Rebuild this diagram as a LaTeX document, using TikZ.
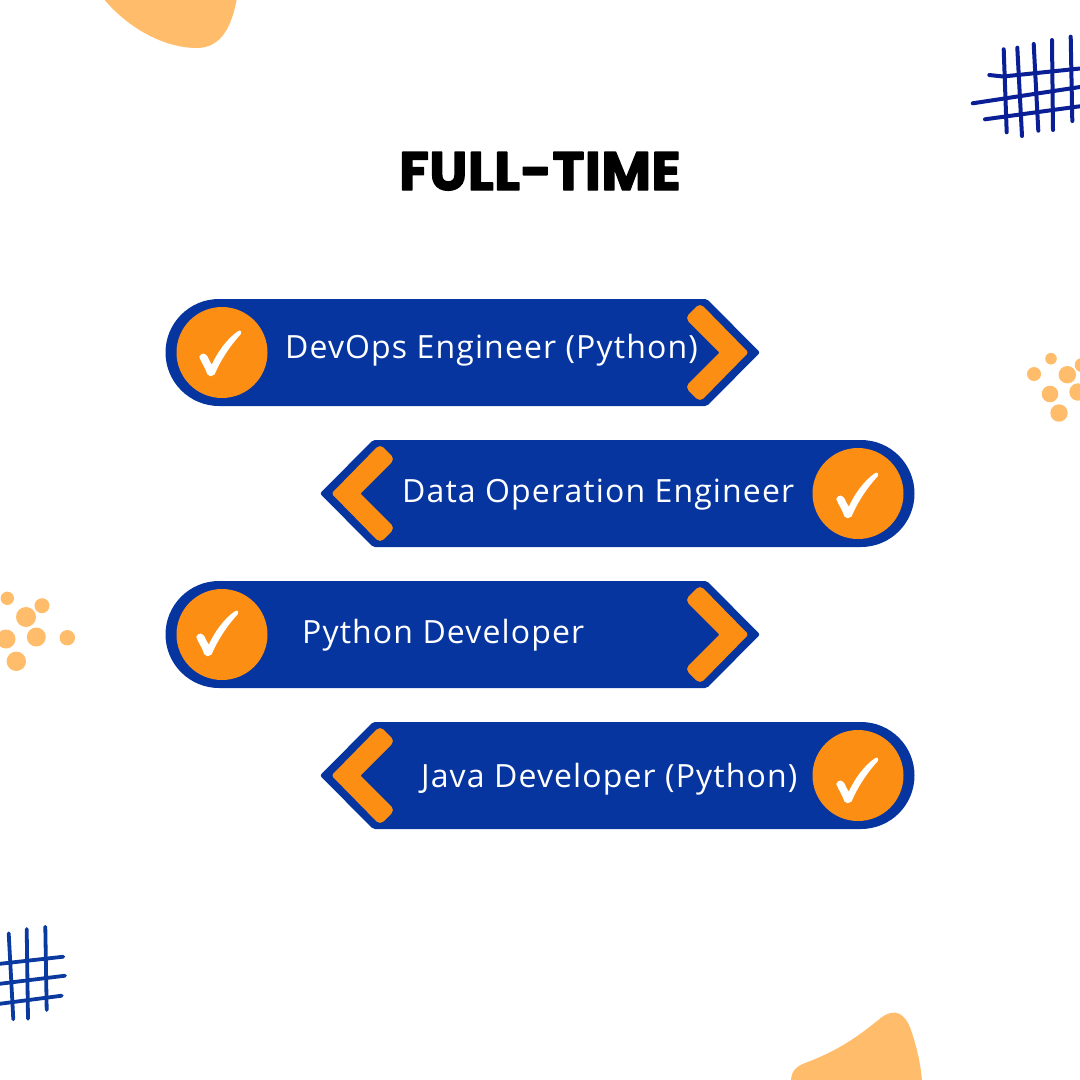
\documentclass[tikz,border=0pt]{standalone}
\usepackage{fontspec}
\setmainfont{Open Sans}
\newfontfamily\titlefont[FakeBold=2.5,LetterSpace=1]{Poppins}
\definecolor{bannerblue}{HTML}{0635A0}
\definecolor{chevorange}{HTML}{FC8E13}
\definecolor{blobpeach}{HTML}{FFBD6B}
\definecolor{gridnavy}{HTML}{0A1F96}
\definecolor{gridblue}{HTML}{0A3AA0}
\tikzset{
  banner/.style={fill=bannerblue,draw=none},
  chevron/.style={fill=chevorange,draw=none},
  badge/.style={fill=chevorange,draw=none},
  tick/.style={fill=white,draw=white,line width=1.4pt,line join=round},
  blob/.style={fill=blobpeach,draw=none},
  gridnavyline/.style={draw=gridnavy,line width=4pt,line cap=round},
  gridblueline/.style={draw=gridblue,line width=3.8pt,line cap=round},
  label/.style={text=white,inner sep=0pt,anchor=base west,font=\fontsize{32}{36}\selectfont\addfontfeature{LetterSpace=3.5}},
  titletext/.style={text=black,inner sep=0pt,anchor=base,font=\fontsize{54}{60}\selectfont\titlefont\bfseries}
}
\newcommand{\bannershape}{%
  \path[banner] (219,299) -- (705,299) [rounded corners=2pt] -- (707,299) -- (760,352.5) -- (707,406) [sharp corners] -- (219,406)
     arc[start angle=90,end angle=270,radius=53.5] -- cycle;
  \path[chevron] [rounded corners=5pt] (700,303) [rounded corners=2.5pt] -- (748.5,352.5) [rounded corners=5pt] -- (700,402) -- (685,387) [rounded corners=1pt] -- (719.5,352.5) [rounded corners=5pt] -- (685,318) -- cycle;
}
\newcommand{\tickmark}[2]{%
  \begin{scope}[shift={(#1,#2)}]
    \path[tick] (-22,5) .. controls (-20,1) and (-17,2) .. (-15,5)
      .. controls (-13,9) and (-12,12) .. (-10,14)
      .. controls (-4,0) and (6,-13) .. (16,-20)
      .. controls (19,-22) and (19,-19) .. (18,-18)
      .. controls (7,-6) and (-2,8) .. (-8,22)
      .. controls (-10,24) and (-13,24) .. (-14,22)
      .. controls (-16,16) and (-20,10) .. (-22,5) -- cycle;
  \end{scope}%
}
\begin{document}
\begin{tikzpicture}[x=1pt,y=-1pt]
\useasboundingbox (0,0) rectangle (1080,1080);
\fill[white] (0,0) rectangle (1080,1080);
\begin{scope}
\clip (0,0) rectangle (1080,1080);
% blobs
\path[blob] (103,-2) .. controls (125,25) and (160,47) .. (195,48)
   .. controls (222,49) and (232,25) .. (237,-2) -- cycle;
\path[blob] (791,1082) .. controls (791,1072) and (795,1067) .. (805,1063)
   .. controls (840,1050) and (860,1035) .. (882,1017)
   .. controls (895,1008) and (905,1013) .. (911,1030)
   .. controls (917,1048) and (921,1065) .. (922,1082) -- cycle;
% dots
\foreach \cx/\cy/\r in {1051/358.7/5.8,1034/374/7,1067.3/374.7/8.7,1081.7/365/7,1078/392/8.7,1050/394/8.3,1059/413/8.7,
  7.3/598.3/6.7,42/605.7/7.5,26/617/10,6/639/9.5,36.3/637/9.5,67.3/637.7/7.7,16.3/661.3/9.7}
  \path[blob] (\cx,\cy) circle[radius=\r];
% grids
\foreach \xa/\ya/\xb/\yb in {1003.7/49.3/1006.7/132.3,1017.3/47.7/1022/136,1033.7/44/1038.3/130.7,1052/40/1053/130,1070.7/36.7/1072.3/121}
  \draw[gridnavyline] (\xa,\ya) -- (\xb,\yb);
\draw[gridnavyline] (989.3,75) -- (1003,76.5) -- (1082,68.3);
\draw[gridnavyline] (972.7,103.3) -- (1082,86.7);
\draw[gridnavyline] (985,119.3) -- (1082,106);
\foreach \xa/\ya/\xb/\yb in {8.7/933.3/13.3/1019.3,26.7/929/28/1018.7,45.3/926.7/46.7/1010}
  \draw[gridblueline] (\xa,\ya) -- (\xb,\yb);
\draw[gridblueline] (-2,964) -- (63.3,956.7);
\draw[gridblueline] (-2,984) -- (65,975.7);
\draw[gridblueline] (-2,1004) -- (61.7,995.7);
\end{scope}
% banners
\begin{scope}\bannershape\end{scope}
\begin{scope}[shift={(1080,141)},xscale=-1]\bannershape\end{scope}
\begin{scope}[shift={(0,282)}]\bannershape\end{scope}
\begin{scope}[shift={(1080,423)},xscale=-1]\bannershape\end{scope}
% badges
\path[badge] (222,352.5) circle[radius=45.5];
\path[badge] (858,493.5) circle[radius=45.5];
\path[badge] (222,634.5) circle[radius=45.5];
\path[badge] (858,775.5) circle[radius=45.5];
\tickmark{222}{352}
\tickmark{859}{494}
\tickmark{219}{632}
\tickmark{859}{779}
% text
\node[titletext] (title) at (540,190) {\pgfsetroundjoin\pgfsetroundcap FULL-TIME};
\node[label] (devops) at (285,358) {DevOps Engineer (Python)};
\node[label] (dataop) at (402,502) {Data Operation Engineer};
\node[label] (pydev) at (302,643) {Python Developer};
\node[label] (javadev) at (421,787) {Java Developer (Python)};
\end{tikzpicture}
\end{document}
